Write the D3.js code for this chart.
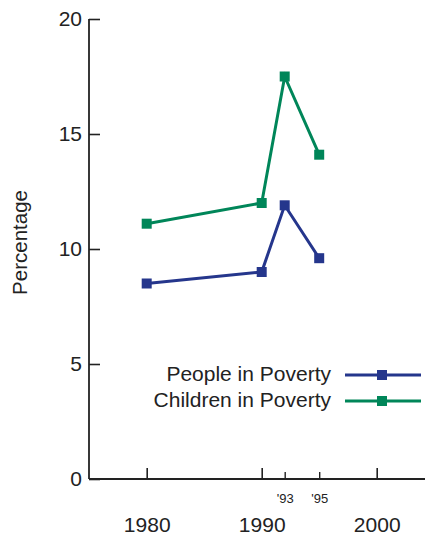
<!DOCTYPE html>
<html><head><meta charset="utf-8">
<script src="https://cdn.jsdelivr.net/npm/d3@7"></script>
<style>body{margin:0;background:#fff}svg{display:block}text{font-family:"Liberation Sans",Arial,sans-serif;fill:#222}</style>
</head><body>
<script>
const years = [1980, 1990, 1992, 1995];
const people = [8.5, 9.0, 11.9, 9.6];
const children = [11.1, 12.0, 17.5, 14.1];
const seriesNames = ["People in Poverty", "Children in Poverty"];
const seriesColors = ["#25368c", "#008659"];
const yTicks = [0, 5, 10, 15, 20];
const xMajorTicks = [1980, 1990, 2000];
const xMinorTicks = [1992, 1995];
const xMinorLabels = ["'93", "'95"];

const W = 425, H = 540;
const FONT = '"Liberation Sans",Arial,sans-serif';
const svg = d3.select("body").append("svg").attr("width", W).attr("height", H);
const x = d3.scaleLinear().domain([1980, 2000]).range([146.7, 376.7]);
const y = d3.scaleLinear().domain([0, 20]).range([479, 19]);
const x0 = 89, xEnd = 425;

// axes
const ya = svg.append("g").attr("transform", `translate(${x0},0)`)
  .call(d3.axisLeft(y).tickValues(yTicks).tickSize(-11).tickPadding(7).tickFormat(d3.format("d")));
ya.select(".domain").remove();
ya.selectAll("line").attr("stroke", "#222").attr("stroke-width", 1.6);
ya.selectAll("text").attr("font-size", 21).style("font-family", FONT).attr("fill", "#222");
svg.append("line").attr("x1", x0).attr("x2", x0).attr("y1", y(20)).attr("y2", y(0)).attr("stroke", "#222").attr("stroke-width", 1.8);
svg.append("line").attr("x1", x0).attr("x2", xEnd).attr("y1", y(0)).attr("y2", y(0)).attr("stroke", "#222").attr("stroke-width", 1.8);

const xa = svg.append("g").attr("transform", `translate(0,${y(0)})`)
  .call(d3.axisBottom(x).tickValues(xMajorTicks).tickSize(-11).tickPadding(38).tickFormat(d3.format("d")));
xa.select(".domain").remove();
xa.selectAll("line").attr("stroke", "#222").attr("stroke-width", 1.6);
xa.selectAll("text").attr("font-size", 21).style("font-family", FONT).attr("fill", "#222");

const xm = svg.append("g").attr("transform", `translate(0,${y(0)})`)
  .call(d3.axisBottom(x).tickValues(xMinorTicks).tickSize(-7).tickPadding(14.5).tickFormat((d, i) => xMinorLabels[i]));
xm.select(".domain").remove();
xm.selectAll("line").attr("stroke", "#222").attr("stroke-width", 1.4);
xm.selectAll("text").attr("font-size", 13).style("font-family", FONT).attr("fill", "#222");

// y label
svg.append("text").attr("transform", "translate(27,242.5) rotate(-90)").attr("text-anchor", "middle")
  .attr("font-size", 20.5).text("Percentage");

// series
const data = [people, children];
const line = d3.line().x((d, i) => x(years[i])).y(d => y(d));
data.forEach((vals, s) => {
  svg.append("path").datum(vals).attr("d", line).attr("fill", "none")
    .attr("stroke", seriesColors[s]).attr("stroke-width", 3);
  svg.selectAll(null).data(vals).enter().append("rect")
    .attr("x", (d, i) => x(years[i]) - 5).attr("y", d => y(d) - 5)
    .attr("width", 10).attr("height", 10).attr("fill", seriesColors[s]);
});

// legend
const legY = [375, 401];
seriesNames.forEach((name, s) => {
  const g = svg.append("g");
  g.append("text").attr("x", 331).attr("y", legY[s] + 5.5).attr("text-anchor", "end")
    .attr("font-size", 21).text(name);
  g.append("line").attr("x1", 345).attr("x2", 421).attr("y1", legY[s]).attr("y2", legY[s])
    .attr("stroke", seriesColors[s]).attr("stroke-width", 3);
  g.append("rect").attr("x", 377).attr("y", legY[s] - 5).attr("width", 10).attr("height", 10).attr("fill", seriesColors[s]);
});
</script>
</body></html>
